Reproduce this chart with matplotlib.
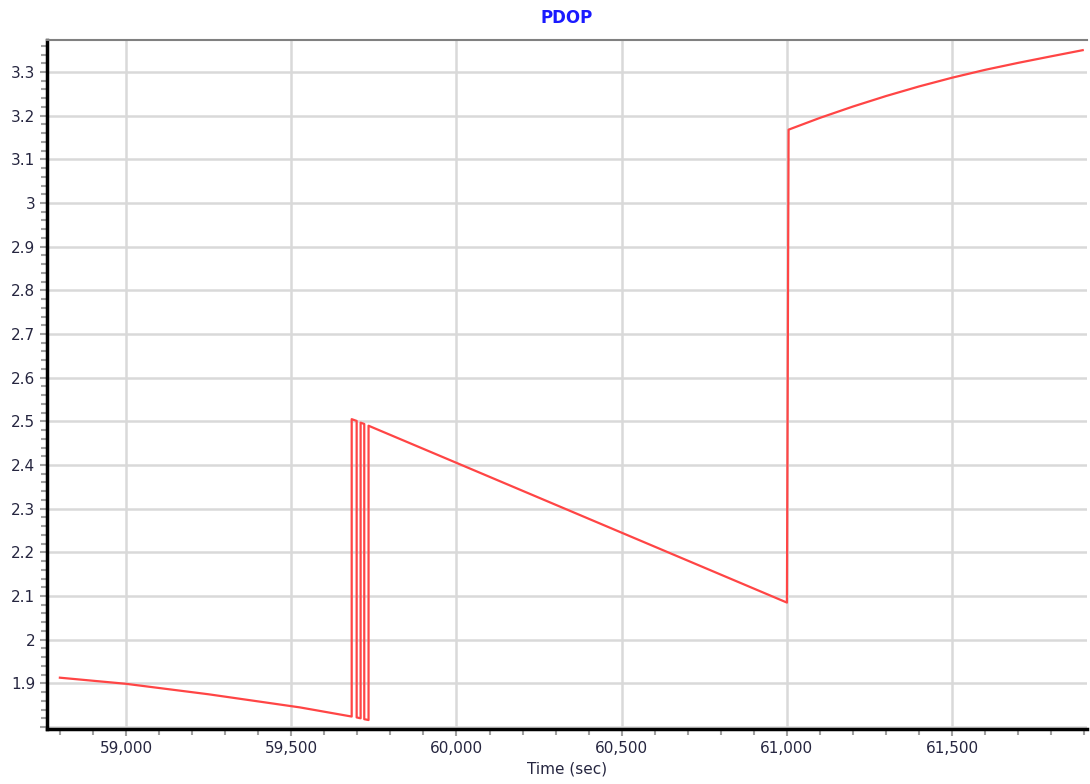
import matplotlib
matplotlib.use("Agg")
import matplotlib.pyplot as plt
from matplotlib.ticker import MultipleLocator, FuncFormatter

# PDOP vs time
time_sec = [58800, 59000, 59250, 59526, 59683, 59683, 59698, 59698, 59710, 59710,
            59721, 59721, 59734, 59734, 60000, 60500, 61000, 61005,
            61100, 61200, 61300, 61400, 61500, 61600, 61700, 61800, 61895]
pdop = [1.913, 1.899, 1.875, 1.845, 1.824, 2.505, 2.501, 1.822, 1.820, 2.497,
        2.494, 1.818, 1.816, 2.490, 2.405, 2.245, 2.085, 3.168,
        3.195, 3.221, 3.245, 3.267, 3.287, 3.305, 3.321, 3.336, 3.350]

label_color = "#262640"

fig = plt.figure(figsize=(10.9, 7.84), dpi=100)
ax = fig.add_axes([47 / 1090, 1 - 729 / 784, 1040 / 1090, 689 / 784])

ax.plot(time_sec, pdop, color="#ff4545", lw=1.6, zorder=3)

ax.set_xlim(58761, 61908)
ax.set_ylim(1.7955, 3.3733)

ax.xaxis.set_major_locator(MultipleLocator(500))
ax.xaxis.set_minor_locator(MultipleLocator(100))
ax.yaxis.set_major_locator(MultipleLocator(0.1))
ax.yaxis.set_minor_locator(MultipleLocator(0.02))
ax.xaxis.set_major_formatter(FuncFormatter(lambda v, p: f"{v:,.0f}"))
ax.yaxis.set_major_formatter(FuncFormatter(lambda v, p: f"{v:g}" if v > 1.85 else ""))

ax.grid(True, which="major", color="#d9d9d9", lw=1.8, zorder=0)
ax.tick_params(which="both", direction="out", color="#a0a0a0", labelcolor=label_color,
               labelsize=11)
ax.tick_params(which="major", length=5, width=1.5)
ax.tick_params(which="minor", length=4, width=1.5)

for s in ["left", "bottom"]:
    ax.spines[s].set_color("black")
    ax.spines[s].set_linewidth(2.5)
ax.spines["top"].set_color("#808080")
ax.spines["top"].set_linewidth(1.5)
ax.spines["right"].set_visible(False)

ax.set_title("PDOP", color="#1a1aff", fontweight="bold", fontsize=12, pad=12)
ax.set_xlabel("Time (sec)", color=label_color, fontsize=11, labelpad=4)

fig.savefig("out.png", dpi=100)
